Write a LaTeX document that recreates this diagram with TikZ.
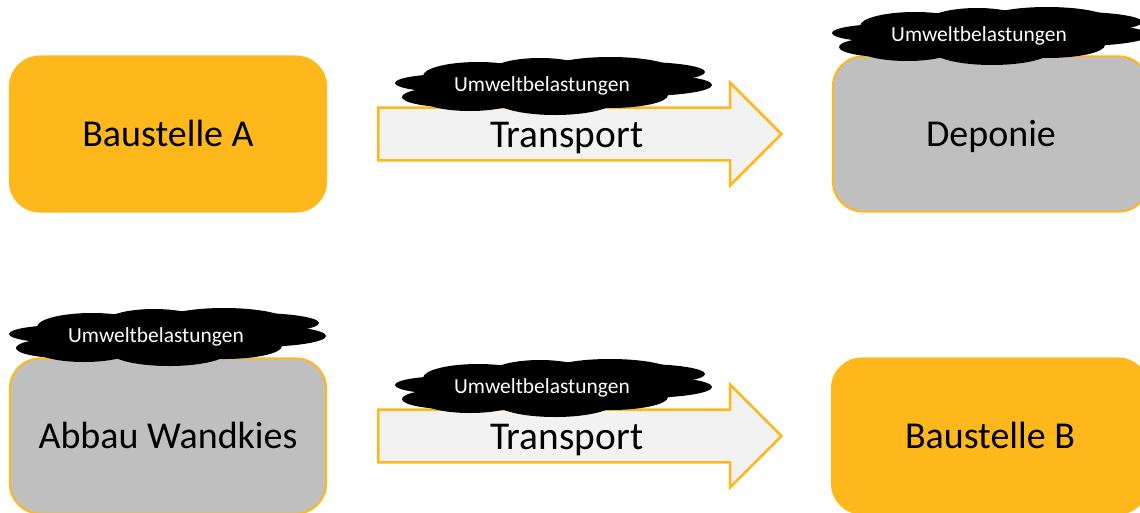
\documentclass[tikz,border=0pt]{standalone}
\usepackage{fontspec}
\setmainfont{Carlito}
\usetikzlibrary{shapes.arrows}
\definecolor{amber}{HTML}{FFB81C}
\definecolor{schutt}{HTML}{BFBFBF}
\definecolor{pfeil}{HTML}{F2F2F2}
\tikzset{
  site/.style={draw=amber, line width=0.02cm, rounded corners=0.3cm, minimum width=3.16cm, minimum height=1.55cm, text height=0.28cm, text depth=0.04cm, font=\fontsize{10.8pt}{12pt}\selectfont},
  carrier/.style={single arrow, draw=amber, fill=pfeil, line width=0.025cm, minimum height=4.03cm, minimum width=1.0cm, single arrow head extend=0.25cm, single arrow tip angle=90, inner sep=0pt, text height=0.38cm, text depth=0.12cm, anchor=tail, font=\fontsize{11.2pt}{12pt}\selectfont},
  umweltcloud/.pic={
    \fill[black] (-64,-8) ellipse (55 and 14);
    \fill[black] (-2,-12) ellipse (50 and 14);
    \fill[black] (68,-13) ellipse (65 and 14);
    \fill[black] (98,-12) ellipse (65 and 10);
    \fill[black] (98,1) ellipse (72 and 11);
    \fill[black] (68,11) ellipse (58 and 13);
    \fill[black] (13,16) ellipse (60 and 15);
    \fill[black] (-72,14) ellipse (50 and 13);
    \fill[black] (-92,13) ellipse (48 and 10);
    \fill[black] (-92,-1) ellipse (55 and 9);
    \fill[black] (0,0) ellipse (90 and 18);
    \node[white, font=\fontsize{6.1pt}{7pt}\selectfont] (-label) at (0,2) {Umweltbelastungen};
  }
}
\begin{document}
\begin{tikzpicture}[x=0.01cm, y=-0.01cm]
\clip (0,0) rectangle (1140,512);
\node[site, fill=amber] (baustelleA) at (168,134) {Baustelle A};
\node[site, fill=schutt] (deponie) at (991,134) {Deponie};
\node[site, fill=schutt] (abbau) at (168,436) {Abbau Wandkies};
\node[site, fill=amber] (baustelleB) at (990,436) {Baustelle B};
\node[carrier] (transportA) at (377,134) {Transport\hspace{0.08cm}};
\node[carrier] (transportB) at (377,436) {Transport\hspace{0.08cm}};
\foreach \name/\x/\y in {wolkeA/542/84, wolkeB/542/386, wolkeC/979/34, wolkeD/156/335}
  \pic (\name) at (\x,\y) {umweltcloud};
\end{tikzpicture}
\end{document}
